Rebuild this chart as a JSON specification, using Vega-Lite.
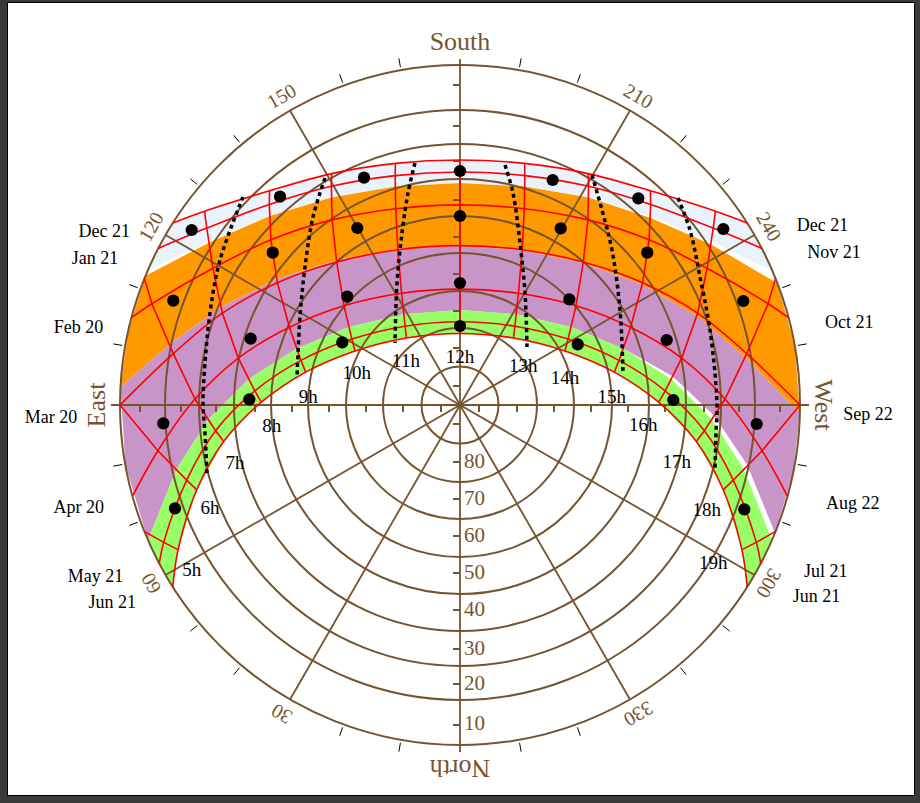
{
"$schema":"https://vega.github.io/schema/vega-lite/v6.json",
"width":920,"height":803,
"autosize":{"type":"fit","contains":"padding"},
"padding":{"left":7,"top":2,"right":6,"bottom":8},
"background":"#3a3a3a",
"config":{"view":{"fill":"white","stroke":"black","strokeWidth":1}},
"datasets":{
"bands":[
{"b":"LB","i":0,"x":-287.2,"y":182},{"b":"LB","i":1,"x":-255.5,"y":193.8},{"b":"LB","i":2,"x":-190.4,"y":214.2},{"b":"LB","i":3,"x":-128.3,"y":231.4},{"b":"LB","i":4,"x":-64.6,"y":241.6},{"b":"LB","i":5,"x":0,"y":245},{"b":"LB","i":6,"x":64.6,"y":241.6},{"b":"LB","i":7,"x":128.3,"y":231.4},{"b":"LB","i":8,"x":190.4,"y":214.2},{"b":"LB","i":9,"x":255.5,"y":193.8},{"b":"LB","i":10,"x":287.2,"y":182},
{"b":"LB","i":11,"x":312.3,"y":134.4},{"b":"LB","i":12,"x":251.2,"y":163.6},{"b":"LB","i":13,"x":190.2,"y":188.9},{"b":"LB","i":14,"x":128.4,"y":207.6},{"b":"LB","i":15,"x":64.6,"y":218.5},{"b":"LB","i":16,"x":0,"y":222.1},{"b":"LB","i":17,"x":-64.6,"y":218.5},{"b":"LB","i":18,"x":-128.4,"y":207.6},{"b":"LB","i":19,"x":-190.2,"y":188.9},{"b":"LB","i":20,"x":-251.2,"y":163.6},{"b":"LB","i":21,"x":-312.3,"y":134.4},
{"b":"OR","i":0,"x":-314.5,"y":129.2},{"b":"OR","i":1,"x":-251.2,"y":162.3},{"b":"OR","i":2,"x":-190.2,"y":188.9},{"b":"OR","i":3,"x":-128.4,"y":207.6},{"b":"OR","i":4,"x":-64.6,"y":218.5},{"b":"OR","i":5,"x":0,"y":222.1},{"b":"OR","i":6,"x":64.6,"y":218.5},{"b":"OR","i":7,"x":128.4,"y":207.6},{"b":"OR","i":8,"x":190.2,"y":187.2},{"b":"OR","i":9,"x":251.2,"y":160.5},{"b":"OR","i":10,"x":317.5,"y":121.7},{"b":"OR","i":11,"x":334.8,"y":58.5},
{"b":"OR","i":12,"x":339.9,"y":-8},{"b":"OR","i":13,"x":286.7,"y":46.4},{"b":"OR","i":14,"x":237.6,"y":88.8},{"b":"OR","i":15,"x":182.6,"y":120.2},{"b":"OR","i":16,"x":123.3,"y":141.9},{"b":"OR","i":17,"x":62.2,"y":154.8},{"b":"OR","i":18,"x":0,"y":159.4},{"b":"OR","i":19,"x":-62.2,"y":156.3},{"b":"OR","i":20,"x":-123.3,"y":144.9},{"b":"OR","i":21,"x":-182.6,"y":126.2},{"b":"OR","i":22,"x":-237.6,"y":98.8},{"b":"OR","i":23,"x":-286.7,"y":63.4},{"b":"OR","i":24,"x":-339.5,"y":18},{"b":"OR","i":25,"x":-331.6,"y":74.6},
{"b":"PU","i":0,"x":-339.5,"y":18},{"b":"PU","i":1,"x":-286.7,"y":63.4},{"b":"PU","i":2,"x":-237.6,"y":98.8},{"b":"PU","i":3,"x":-182.6,"y":126.2},{"b":"PU","i":4,"x":-123.3,"y":144.9},{"b":"PU","i":5,"x":-62.2,"y":156.3},{"b":"PU","i":6,"x":0,"y":159.4},{"b":"PU","i":7,"x":62.2,"y":154.8},{"b":"PU","i":8,"x":123.3,"y":141.9},{"b":"PU","i":9,"x":182.6,"y":120.2},{"b":"PU","i":10,"x":237.6,"y":88.8},{"b":"PU","i":11,"x":286.7,"y":46.4},{"b":"PU","i":12,"x":339.9,"y":-8},{"b":"PU","i":13,"x":332.9,"y":-69.1},
{"b":"PU","i":14,"x":315,"y":-128},{"b":"PU","i":15,"x":287,"y":-59.5},{"b":"PU","i":16,"x":254,"y":-10.5},{"b":"PU","i":17,"x":212.5,"y":28.8},{"b":"PU","i":18,"x":163.2,"y":56.5},{"b":"PU","i":19,"x":110.9,"y":77.9},{"b":"PU","i":20,"x":56.2,"y":90.7},{"b":"PU","i":21,"x":0,"y":95},{"b":"PU","i":22,"x":-56.2,"y":90.7},{"b":"PU","i":23,"x":-110.9,"y":77.9},{"b":"PU","i":24,"x":-163.2,"y":56.5},{"b":"PU","i":25,"x":-211.1,"y":25.9},{"b":"PU","i":26,"x":-251.8,"y":-14.3},{"b":"PU","i":27,"x":-283.7,"y":-64.5},{"b":"PU","i":28,"x":-312,"y":-135.1},{"b":"PU","i":29,"x":-334.6,"y":-60.1},
{"b":"GR","i":0,"x":-312,"y":-135.1},{"b":"GR","i":1,"x":-283.7,"y":-64.5},{"b":"GR","i":2,"x":-251.8,"y":-14.3},{"b":"GR","i":3,"x":-211.1,"y":25.9},{"b":"GR","i":4,"x":-163.2,"y":56.5},{"b":"GR","i":5,"x":-110.9,"y":77.9},{"b":"GR","i":6,"x":-56.2,"y":90.7},{"b":"GR","i":7,"x":0,"y":95},{"b":"GR","i":8,"x":56.2,"y":90.7},{"b":"GR","i":9,"x":110.9,"y":77.9},{"b":"GR","i":10,"x":163.2,"y":56.5},{"b":"GR","i":11,"x":211.1,"y":25.9},{"b":"GR","i":12,"x":251.8,"y":-14.3},{"b":"GR","i":13,"x":283.7,"y":-64.5},{"b":"GR","i":14,"x":312,"y":-135.1},{"b":"GR","i":15,"x":300.5,"y":-159.1},
{"b":"GR","i":16,"x":287.2,"y":-182},{"b":"GR","i":17,"x":281.9,"y":-144.6},{"b":"GR","i":18,"x":263.2,"y":-84.8},{"b":"GR","i":19,"x":236.3,"y":-36.5},{"b":"GR","i":20,"x":198.7,"y":2.8},{"b":"GR","i":21,"x":154.3,"y":32.9},{"b":"GR","i":22,"x":105,"y":54},{"b":"GR","i":23,"x":53.5,"y":67},{"b":"GR","i":24,"x":0,"y":71.5},{"b":"GR","i":25,"x":-53.5,"y":67},{"b":"GR","i":26,"x":-105,"y":54},{"b":"GR","i":27,"x":-154.3,"y":32.9},{"b":"GR","i":28,"x":-198.7,"y":2.8},{"b":"GR","i":29,"x":-236.3,"y":-36.5},{"b":"GR","i":30,"x":-263.2,"y":-84.8},{"b":"GR","i":31,"x":-281.9,"y":-144.6},{"b":"GR","i":32,"x":-287.2,"y":-182},{"b":"GR","i":33,"x":-300.5,"y":-159.1}
],
"paths":[
{"d":"Dec","i":0,"x":-287.2,"y":182},{"d":"Dec","i":1,"x":-255.5,"y":193.8},{"d":"Dec","i":2,"x":-190.4,"y":214.2},{"d":"Dec","i":3,"x":-128.3,"y":231.4},{"d":"Dec","i":4,"x":-64.6,"y":241.6},{"d":"Dec","i":5,"x":0,"y":245},{"d":"Dec","i":6,"x":64.6,"y":241.6},{"d":"Dec","i":7,"x":128.3,"y":231.4},{"d":"Dec","i":8,"x":190.4,"y":214.2},{"d":"Dec","i":9,"x":255.5,"y":193.8},{"d":"Dec","i":10,"x":287.2,"y":182},
{"d":"Jan","i":0,"x":-301.9,"y":156.5},{"d":"Jan","i":1,"x":-253.2,"y":176.9},{"d":"Jan","i":2,"x":-190.7,"y":200.6},{"d":"Jan","i":3,"x":-128.6,"y":218.7},{"d":"Jan","i":4,"x":-64.8,"y":229.4},{"d":"Jan","i":5,"x":0,"y":233},{"d":"Jan","i":6,"x":64.8,"y":229.4},{"d":"Jan","i":7,"x":128.6,"y":218.7},{"d":"Jan","i":8,"x":190.7,"y":200.6},{"d":"Jan","i":9,"x":253.2,"y":176.9},{"d":"Jan","i":10,"x":301.9,"y":156.5},
{"d":"Feb","i":0,"x":-328.6,"y":87.3},{"d":"Feb","i":1,"x":-308.1,"y":101.3},{"d":"Feb","i":2,"x":-247.1,"y":136.7},{"d":"Feb","i":3,"x":-189.1,"y":165.2},{"d":"Feb","i":4,"x":-127.9,"y":185.1},{"d":"Feb","i":5,"x":-64.3,"y":196.3},{"d":"Feb","i":6,"x":0,"y":200.1},{"d":"Feb","i":7,"x":64.3,"y":196.3},{"d":"Feb","i":8,"x":127.9,"y":185.1},{"d":"Feb","i":9,"x":189.1,"y":165.2},{"d":"Feb","i":10,"x":247.1,"y":136.7},{"d":"Feb","i":11,"x":308.1,"y":101.3},{"d":"Feb","i":12,"x":328.6,"y":87.3},
{"d":"Mar","i":0,"x":-340,"y":0},{"d":"Mar","i":1,"x":-286.7,"y":51.4},{"d":"Mar","i":2,"x":-237.6,"y":91.8},{"d":"Mar","i":3,"x":-182.6,"y":122.2},{"d":"Mar","i":4,"x":-123.3,"y":142.9},{"d":"Mar","i":5,"x":-62.2,"y":155.3},{"d":"Mar","i":6,"x":0,"y":159.4},{"d":"Mar","i":7,"x":62.2,"y":155.3},{"d":"Mar","i":8,"x":123.3,"y":142.9},{"d":"Mar","i":9,"x":182.6,"y":122.2},{"d":"Mar","i":10,"x":237.6,"y":91.8},{"d":"Mar","i":11,"x":286.7,"y":51.4},{"d":"Mar","i":12,"x":340,"y":0},
{"d":"Apr","i":0,"x":-327.5,"y":-91.2},{"d":"Apr","i":1,"x":-302.1,"y":-45.7},{"d":"Apr","i":2,"x":-265,"y":6},{"d":"Apr","i":3,"x":-221.7,"y":46.9},{"d":"Apr","i":4,"x":-170.6,"y":77.7},{"d":"Apr","i":5,"x":-116,"y":99.3},{"d":"Apr","i":6,"x":-58.4,"y":111.8},{"d":"Apr","i":7,"x":0,"y":115.9},{"d":"Apr","i":8,"x":58.4,"y":111.8},{"d":"Apr","i":9,"x":116,"y":99.3},{"d":"Apr","i":10,"x":170.6,"y":77.7},{"d":"Apr","i":11,"x":221.7,"y":46.9},{"d":"Apr","i":12,"x":265,"y":6},{"d":"Apr","i":13,"x":302.1,"y":-45.7},{"d":"Apr","i":14,"x":327.5,"y":-91.2},
{"d":"May","i":0,"x":-300.7,"y":-158.7},{"d":"May","i":1,"x":-296.3,"y":-137.4},{"d":"May","i":2,"x":-273.3,"y":-75.1},{"d":"May","i":3,"x":-244.4,"y":-25.7},{"d":"May","i":4,"x":-205.2,"y":14.1},{"d":"May","i":5,"x":-159,"y":44.6},{"d":"May","i":6,"x":-108.1,"y":65.9},{"d":"May","i":7,"x":-54.9,"y":78.8},{"d":"May","i":8,"x":0,"y":83.3},{"d":"May","i":9,"x":54.9,"y":78.8},{"d":"May","i":10,"x":108.1,"y":65.9},{"d":"May","i":11,"x":159,"y":44.6},{"d":"May","i":12,"x":205.2,"y":14.1},{"d":"May","i":13,"x":244.4,"y":-25.7},{"d":"May","i":14,"x":273.3,"y":-75.1},{"d":"May","i":15,"x":296.3,"y":-137.4},{"d":"May","i":16,"x":300.7,"y":-158.7},
{"d":"Jun","i":0,"x":-287.2,"y":-182},{"d":"Jun","i":1,"x":-281.9,"y":-144.6},{"d":"Jun","i":2,"x":-263.2,"y":-84.8},{"d":"Jun","i":3,"x":-236.3,"y":-36.5},{"d":"Jun","i":4,"x":-198.7,"y":2.8},{"d":"Jun","i":5,"x":-154.3,"y":32.9},{"d":"Jun","i":6,"x":-105,"y":54},{"d":"Jun","i":7,"x":-53.5,"y":67},{"d":"Jun","i":8,"x":0,"y":71.5},{"d":"Jun","i":9,"x":53.5,"y":67},{"d":"Jun","i":10,"x":105,"y":54},{"d":"Jun","i":11,"x":154.3,"y":32.9},{"d":"Jun","i":12,"x":198.7,"y":2.8},{"d":"Jun","i":13,"x":236.3,"y":-36.5},{"d":"Jun","i":14,"x":263.2,"y":-84.8},{"d":"Jun","i":15,"x":281.9,"y":-144.6},{"d":"Jun","i":16,"x":287.2,"y":-182}
],
"hours":[
{"h":"05","i":0,"x":-315.6,"y":-126.4},{"h":"05","i":1,"x":-296.3,"y":-137.4},{"h":"05","i":2,"x":-281.9,"y":-144.6},
{"h":"06","i":0,"x":-340,"y":0},{"h":"06","i":1,"x":-302.1,"y":-45.7},{"h":"06","i":2,"x":-273.3,"y":-75.1},{"h":"06","i":3,"x":-263.2,"y":-84.8},
{"h":"07","i":0,"x":-315.6,"y":126.4},{"h":"07","i":1,"x":-308.1,"y":101.3},{"h":"07","i":2,"x":-286.7,"y":51.4},{"h":"07","i":3,"x":-265,"y":6},{"h":"07","i":4,"x":-244.4,"y":-25.7},{"h":"07","i":5,"x":-236.3,"y":-36.5},
{"h":"08","i":0,"x":-255.5,"y":193.8},{"h":"08","i":1,"x":-253.2,"y":176.9},{"h":"08","i":2,"x":-247.1,"y":136.7},{"h":"08","i":3,"x":-237.6,"y":91.8},{"h":"08","i":4,"x":-221.7,"y":46.9},{"h":"08","i":5,"x":-205.2,"y":14.1},{"h":"08","i":6,"x":-198.7,"y":2.8},
{"h":"09","i":0,"x":-190.4,"y":214.2},{"h":"09","i":1,"x":-190.7,"y":200.6},{"h":"09","i":2,"x":-189.1,"y":165.2},{"h":"09","i":3,"x":-182.6,"y":122.2},{"h":"09","i":4,"x":-170.6,"y":77.7},{"h":"09","i":5,"x":-159,"y":44.6},{"h":"09","i":6,"x":-154.3,"y":32.9},
{"h":"10","i":0,"x":-128.3,"y":231.4},{"h":"10","i":1,"x":-128.6,"y":218.7},{"h":"10","i":2,"x":-127.9,"y":185.1},{"h":"10","i":3,"x":-123.3,"y":142.9},{"h":"10","i":4,"x":-116,"y":99.3},{"h":"10","i":5,"x":-108.1,"y":65.9},{"h":"10","i":6,"x":-105,"y":54},
{"h":"11","i":0,"x":-64.6,"y":241.6},{"h":"11","i":1,"x":-64.8,"y":229.4},{"h":"11","i":2,"x":-64.3,"y":196.3},{"h":"11","i":3,"x":-62.2,"y":155.3},{"h":"11","i":4,"x":-58.4,"y":111.8},{"h":"11","i":5,"x":-54.9,"y":78.8},{"h":"11","i":6,"x":-53.5,"y":67},
{"h":"12","i":0,"x":0,"y":245},{"h":"12","i":1,"x":0,"y":71.5},
{"h":"13","i":0,"x":64.6,"y":241.6},{"h":"13","i":1,"x":64.8,"y":229.4},{"h":"13","i":2,"x":64.3,"y":196.3},{"h":"13","i":3,"x":62.2,"y":155.3},{"h":"13","i":4,"x":58.4,"y":111.8},{"h":"13","i":5,"x":54.9,"y":78.8},{"h":"13","i":6,"x":53.5,"y":67},
{"h":"14","i":0,"x":128.3,"y":231.4},{"h":"14","i":1,"x":128.6,"y":218.7},{"h":"14","i":2,"x":127.9,"y":185.1},{"h":"14","i":3,"x":123.3,"y":142.9},{"h":"14","i":4,"x":116,"y":99.3},{"h":"14","i":5,"x":108.1,"y":65.9},{"h":"14","i":6,"x":105,"y":54},
{"h":"15","i":0,"x":190.4,"y":214.2},{"h":"15","i":1,"x":190.7,"y":200.6},{"h":"15","i":2,"x":189.1,"y":165.2},{"h":"15","i":3,"x":182.6,"y":122.2},{"h":"15","i":4,"x":170.6,"y":77.7},{"h":"15","i":5,"x":159,"y":44.6},{"h":"15","i":6,"x":154.3,"y":32.9},
{"h":"16","i":0,"x":255.5,"y":193.8},{"h":"16","i":1,"x":253.2,"y":176.9},{"h":"16","i":2,"x":247.1,"y":136.7},{"h":"16","i":3,"x":237.6,"y":91.8},{"h":"16","i":4,"x":221.7,"y":46.9},{"h":"16","i":5,"x":205.2,"y":14.1},{"h":"16","i":6,"x":198.7,"y":2.8},
{"h":"17","i":0,"x":315.6,"y":126.4},{"h":"17","i":1,"x":308.1,"y":101.3},{"h":"17","i":2,"x":286.7,"y":51.4},{"h":"17","i":3,"x":265,"y":6},{"h":"17","i":4,"x":244.4,"y":-25.7},{"h":"17","i":5,"x":236.3,"y":-36.5},
{"h":"18","i":0,"x":340,"y":0},{"h":"18","i":1,"x":302.1,"y":-45.7},{"h":"18","i":2,"x":273.3,"y":-75.1},{"h":"18","i":3,"x":263.2,"y":-84.8},
{"h":"19","i":0,"x":315.6,"y":-126.4},{"h":"19","i":1,"x":296.3,"y":-137.4},{"h":"19","i":2,"x":281.9,"y":-144.6}
],
"dotted":[
{"k":"07","i":0,"x":-217,"y":208},{"k":"07","i":1,"x":-240,"y":145},{"k":"07","i":2,"x":-250,"y":92},{"k":"07","i":3,"x":-255,"y":42},{"k":"07","i":4,"x":-257,"y":2},{"k":"07","i":5,"x":-255,"y":-28},{"k":"07","i":6,"x":-253,"y":-70},
{"k":"09","i":0,"x":-135,"y":227},{"k":"09","i":1,"x":-147,"y":188},{"k":"09","i":2,"x":-155,"y":138},{"k":"09","i":3,"x":-160,"y":88},{"k":"09","i":4,"x":-163,"y":27},
{"k":"11","i":0,"x":-45,"y":242},{"k":"11","i":1,"x":-52,"y":212},{"k":"11","i":2,"x":-58,"y":172},{"k":"11","i":3,"x":-63,"y":122},{"k":"11","i":4,"x":-65,"y":62},
{"k":"13","i":0,"x":45,"y":240},{"k":"13","i":1,"x":53,"y":212},{"k":"13","i":2,"x":60,"y":162},{"k":"13","i":3,"x":65,"y":112},{"k":"13","i":4,"x":67,"y":58},
{"k":"15","i":0,"x":132,"y":230},{"k":"15","i":1,"x":142,"y":195},{"k":"15","i":2,"x":152,"y":155},{"k":"15","i":3,"x":160,"y":95},{"k":"15","i":4,"x":163,"y":33},
{"k":"17","i":0,"x":218,"y":207},{"k":"17","i":1,"x":230,"y":175},{"k":"17","i":2,"x":240,"y":128},{"k":"17","i":3,"x":250,"y":75},{"k":"17","i":4,"x":257,"y":2},{"k":"17","i":5,"x":256,"y":-28},{"k":"17","i":6,"x":255,"y":-63}
],
"sun":[
{"x":-268.3,"y":175},{"x":-180,"y":208.3},{"x":-96,"y":227.3},{"x":0,"y":234},{"x":92.7,"y":225},{"x":178.3,"y":206.7},{"x":263.3,"y":176},
{"x":-187.3,"y":152.3},{"x":-102.7,"y":177},{"x":0,"y":189},{"x":100.7,"y":176.7},{"x":187.3,"y":152.3},
{"x":-286.7,"y":104.3},{"x":-112.7,"y":108.3},{"x":0,"y":122},{"x":109.3,"y":105.7},{"x":283.3,"y":104},
{"x":-209.3,"y":66.3},{"x":-117.7,"y":62.7},{"x":0,"y":79},{"x":117.7,"y":60.7},{"x":206.7,"y":65},
{"x":-296.7,"y":-18.3},{"x":-210.7,"y":5.7},{"x":213.3,"y":5},{"x":296.7,"y":-19},
{"x":-285,"y":-103.3},{"x":284.3,"y":-104.3}
],
"hourlabels":[
{"t":"5h","x":-268.3,"y":-165},{"t":"6h","x":-250,"y":-103.3},{"t":"7h","x":-225,"y":-58.3},{"t":"8h","x":-188.3,"y":-21},{"t":"9h","x":-151.7,"y":8.3},{"t":"10h","x":-103.3,"y":32.3},{"t":"11h","x":-54,"y":44.3},{"t":"12h","x":0,"y":48},{"t":"13h","x":63.3,"y":39},{"t":"14h","x":105,"y":27.3},{"t":"15h","x":151.7,"y":8.3},{"t":"16h","x":183.3,"y":-20},{"t":"17h","x":216.7,"y":-56.7},{"t":"18h","x":246.7,"y":-105},{"t":"19h","x":253.3,"y":-158.3}
],
"datelabels":[
{"t":"Dec 21","side":"L","x":-330,"y":173.3},{"t":"Jan 21","side":"L","x":-341.7,"y":145.7},{"t":"Feb 20","side":"L","x":-356.7,"y":77.3},{"t":"Mar 20","side":"L","x":-382.7,"y":-13.3},{"t":"Apr 20","side":"L","x":-356,"y":-103.3},{"t":"May 21","side":"L","x":-336.7,"y":-171.7},{"t":"Jun 21","side":"L","x":-324,"y":-198.3},
{"t":"Dec 21","side":"R","x":336.7,"y":179},{"t":"Nov 21","side":"R","x":347.3,"y":152.3},{"t":"Oct 21","side":"R","x":365,"y":82.3},{"t":"Sep 22","side":"R","x":383.3,"y":-10},{"t":"Aug 22","side":"R","x":366,"y":-99.3},{"t":"Jul 21","side":"R","x":344,"y":-166.7},{"t":"Jun 21","side":"R","x":332.7,"y":-191.7}
]
},
"layer":[
{"data":{"name":"bands"},"transform":[{"filter":"datum.b==='LB'"}],"mark":{"type":"line","interpolate":"linear-closed","fill":"#eaf3fb","strokeOpacity":0,"strokeWidth":0},
 "encoding":{"x":{"field":"x","type":"quantitative","scale":{"domain":[-453,454],"nice":false,"zero":false},"axis":null},"y":{"field":"y","type":"quantitative","scale":{"domain":[-390,403],"nice":false,"zero":false},"axis":null},"order":{"field":"i","type":"quantitative"}}},
{"data":{"name":"bands"},"transform":[{"filter":"datum.b==='OR'"}],"mark":{"type":"line","interpolate":"linear-closed","fill":"#ff9900","strokeOpacity":0,"strokeWidth":0},
 "encoding":{"x":{"field":"x","type":"quantitative","axis":null},"y":{"field":"y","type":"quantitative","axis":null},"order":{"field":"i","type":"quantitative"}}},
{"data":{"name":"bands"},"transform":[{"filter":"datum.b==='PU'"}],"mark":{"type":"line","interpolate":"linear-closed","fill":"#c994c7","strokeOpacity":0,"strokeWidth":0},
 "encoding":{"x":{"field":"x","type":"quantitative","axis":null},"y":{"field":"y","type":"quantitative","axis":null},"order":{"field":"i","type":"quantitative"}}},
{"data":{"name":"bands"},"transform":[{"filter":"datum.b==='GR'"}],"mark":{"type":"line","interpolate":"linear-closed","fill":"#99ff66","strokeOpacity":0,"strokeWidth":0},
 "encoding":{"x":{"field":"x","type":"quantitative","axis":null},"y":{"field":"y","type":"quantitative","axis":null},"order":{"field":"i","type":"quantitative"}}},
{"data":{"values":[{"zen":10},{"zen":20},{"zen":30},{"zen":40},{"zen":50},{"zen":60},{"zen":70},{"zen":80},{"zen":90}]},
 "transform":[{"calculate":"0","as":"x"},{"calculate":"0","as":"y"}],
 "mark":{"type":"point","shape":"circle","filled":false,"stroke":"#76542f","strokeWidth":2,"opacity":1},
 "encoding":{"x":{"field":"x","type":"quantitative","axis":null},"y":{"field":"y","type":"quantitative","axis":null},
  "size":{"field":"zen","type":"quantitative","legend":null,"scale":{"domain":[0,10,20,30,40,50,60,70,80,90],"range":[0,5929,23716,51984,92416,142884,204304,272484,348100,462400]}}}},
{"data":{"values":[{"az":0,"r":347},{"az":30,"r":340},{"az":60,"r":340},{"az":90,"r":349},{"az":120,"r":340},{"az":150,"r":340},{"az":180,"r":346},{"az":210,"r":340},{"az":240,"r":340},{"az":270,"r":349},{"az":300,"r":340},{"az":330,"r":340}]},
 "transform":[{"calculate":"0","as":"x"},{"calculate":"0","as":"y"},{"calculate":"-datum.r*sin(datum.az*PI/180)","as":"ex"},{"calculate":"-datum.r*cos(datum.az*PI/180)","as":"ey"}],
 "mark":{"type":"rule","color":"#76542f","strokeWidth":1.8},
 "encoding":{"x":{"field":"x","type":"quantitative","axis":null},"y":{"field":"y","type":"quantitative","axis":null},"x2":{"field":"ex"},"y2":{"field":"ey"}}},
{"data":{"values":[{"az":10},{"az":20},{"az":40},{"az":50},{"az":70},{"az":80},{"az":100},{"az":110},{"az":130},{"az":140},{"az":160},{"az":170},{"az":190},{"az":200},{"az":220},{"az":230},{"az":250},{"az":260},{"az":280},{"az":290},{"az":310},{"az":320},{"az":340},{"az":350}]},
 "transform":[{"calculate":"-343*sin(datum.az*PI/180)","as":"x"},{"calculate":"-343*cos(datum.az*PI/180)","as":"y"},{"calculate":"-352*sin(datum.az*PI/180)","as":"ex"},{"calculate":"-352*cos(datum.az*PI/180)","as":"ey"}],
 "mark":{"type":"rule","color":"black","strokeWidth":1},
 "encoding":{"x":{"field":"x","type":"quantitative","axis":null},"y":{"field":"y","type":"quantitative","axis":null},"x2":{"field":"ex"},"y2":{"field":"ey"}}},
{"data":{"values":[{"d":19},{"d":57},{"d":94},{"d":131},{"d":168},{"d":205},{"d":244},{"d":279},{"d":320},{"d":-19},{"d":-57},{"d":-94},{"d":-131},{"d":-168},{"d":-205},{"d":-244},{"d":-279},{"d":-320}]},
 "transform":[{"calculate":"-7","as":"x"},{"calculate":"0","as":"ex"}],
 "mark":{"type":"rule","color":"#76542f","strokeWidth":2},
 "encoding":{"y":{"field":"d","type":"quantitative","axis":null},"y2":{"field":"d"},"x":{"field":"x","type":"quantitative","axis":null},"x2":{"field":"ex"}}},
{"data":{"values":[{"d":19},{"d":57},{"d":94},{"d":131},{"d":168},{"d":205},{"d":244},{"d":279},{"d":320},{"d":-19},{"d":-57},{"d":-94},{"d":-131},{"d":-168},{"d":-205},{"d":-244},{"d":-279},{"d":-320}]},
 "transform":[{"calculate":"0","as":"y"},{"calculate":"-7","as":"ey"}],
 "mark":{"type":"rule","color":"#76542f","strokeWidth":2},
 "encoding":{"x":{"field":"d","type":"quantitative","axis":null},"x2":{"field":"d"},"y":{"field":"y","type":"quantitative","axis":null},"y2":{"field":"ey"}}},
{"data":{"name":"hours"},"mark":{"type":"line","color":"#ff0000","strokeWidth":1.6},
 "encoding":{"x":{"field":"x","type":"quantitative","axis":null},"y":{"field":"y","type":"quantitative","axis":null},"detail":{"field":"h","type":"nominal"},"order":{"field":"i","type":"quantitative"}}},
{"data":{"name":"paths"},"mark":{"type":"line","color":"#ff0000","strokeWidth":1.6,"interpolate":"catmull-rom"},
 "encoding":{"x":{"field":"x","type":"quantitative","axis":null},"y":{"field":"y","type":"quantitative","axis":null},"detail":{"field":"d","type":"nominal"},"order":{"field":"i","type":"quantitative"}}},
{"data":{"name":"dotted"},"mark":{"type":"line","color":"black","strokeWidth":3.5,"strokeDash":[4,3.5],"strokeCap":"butt","interpolate":"catmull-rom"},
 "encoding":{"x":{"field":"x","type":"quantitative","axis":null},"y":{"field":"y","type":"quantitative","axis":null},"detail":{"field":"k","type":"nominal"},"order":{"field":"i","type":"quantitative"}}},
{"data":{"name":"sun"},"mark":{"type":"point","filled":true,"color":"black","size":150,"opacity":1},
 "encoding":{"x":{"field":"x","type":"quantitative","axis":null},"y":{"field":"y","type":"quantitative","axis":null}}},
{"data":{"name":"hourlabels"},"mark":{"type":"text","font":"Liberation Serif","fontSize":19,"color":"black","align":"center","baseline":"middle"},
 "encoding":{"x":{"field":"x","type":"quantitative","axis":null},"y":{"field":"y","type":"quantitative","axis":null},"text":{"field":"t","type":"nominal"}}},
{"data":{"name":"datelabels"},"transform":[{"filter":"datum.side==='L'"}],"mark":{"type":"text","font":"Liberation Serif","fontSize":18,"color":"black","align":"right","baseline":"middle"},
 "encoding":{"x":{"field":"x","type":"quantitative","axis":null},"y":{"field":"y","type":"quantitative","axis":null},"text":{"field":"t","type":"nominal"}}},
{"data":{"name":"datelabels"},"transform":[{"filter":"datum.side==='R'"}],"mark":{"type":"text","font":"Liberation Serif","fontSize":18,"color":"black","align":"left","baseline":"middle"},
 "encoding":{"x":{"field":"x","type":"quantitative","axis":null},"y":{"field":"y","type":"quantitative","axis":null},"text":{"field":"t","type":"nominal"}}},
{"data":{"values":[{"t":"80","y":-57},{"t":"70","y":-94},{"t":"60","y":-131},{"t":"50","y":-168},{"t":"40","y":-205},{"t":"30","y":-244},{"t":"20","y":-279},{"t":"10","y":-319}]},
 "transform":[{"calculate":"4","as":"x"}],
 "mark":{"type":"text","font":"Liberation Serif","fontSize":21,"color":"#76542f","align":"left","baseline":"middle"},
 "encoding":{"x":{"field":"x","type":"quantitative","axis":null},"y":{"field":"y","type":"quantitative","axis":null},"text":{"field":"t","type":"nominal"}}},
{"data":{"values":[{"az":30},{"az":60},{"az":120},{"az":150},{"az":210},{"az":240},{"az":300},{"az":330}]},
 "transform":[{"calculate":"-356*sin(datum.az*PI/180)","as":"x"},{"calculate":"-356*cos(datum.az*PI/180)","as":"y"},{"calculate":"datum.az-180","as":"rot"},{"calculate":"toString(datum.az)","as":"t"}],
 "mark":{"type":"text","font":"Liberation Serif","fontSize":20,"color":"#76542f","align":"center","baseline":"middle"},
 "encoding":{"x":{"field":"x","type":"quantitative","axis":null},"y":{"field":"y","type":"quantitative","axis":null},"text":{"field":"t","type":"nominal"},"angle":{"field":"rot","type":"quantitative","scale":null}}},
{"data":{"values":[{"az":0,"t":"North"},{"az":90,"t":"East"},{"az":180,"t":"South"},{"az":270,"t":"West"}]},
 "transform":[{"calculate":"-363*sin(datum.az*PI/180)","as":"x"},{"calculate":"-363*cos(datum.az*PI/180)","as":"y"},{"calculate":"datum.az-180","as":"rot"}],
 "mark":{"type":"text","font":"Liberation Serif","fontSize":26,"color":"#76542f","align":"center","baseline":"middle"},
 "encoding":{"x":{"field":"x","type":"quantitative","axis":null},"y":{"field":"y","type":"quantitative","axis":null},"text":{"field":"t","type":"nominal"},"angle":{"field":"rot","type":"quantitative","scale":null}}}
]
}
